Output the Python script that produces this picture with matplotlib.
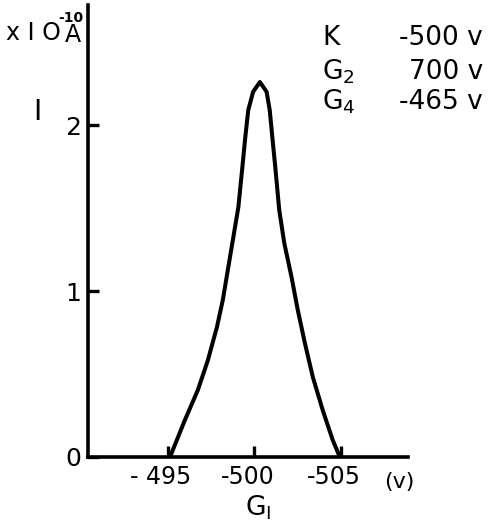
import numpy as np
import matplotlib.pyplot as plt
from matplotlib.transforms import ScaledTranslation

# grid voltage G1 (V) and current (x1e-10 A)
g1 = [-495.12, -495.98, -496.73, -497.31, -497.83, -498.17, -498.46, -498.75,
      -499.07, -499.30, -499.47, -499.64, -499.92, -500.31,
      -500.70, -500.88, -501.03, -501.20, -501.43, -501.72, -502.14, -502.50,
      -502.91, -503.37, -503.94, -504.52, -504.93]
current = [0.0, 0.223, 0.404, 0.584, 0.783, 0.946, 1.127, 1.307,
           1.506, 1.747, 1.928, 2.090, 2.200, 2.259,
           2.200, 2.090, 1.928, 1.747, 1.488, 1.289, 1.084, 0.886,
           0.687, 0.482, 0.283, 0.102, 0.0]

xticks = [-495, -500, -505]
xticklabels = ['- 495', '-500', '-505']
yticks = [0, 1, 2]

electrodes = ['K', 'G$_2$', 'G$_4$']
voltages = ['-500 v', '700 v', '-465 v']

W, H = 490, 527
fig = plt.figure(figsize=(W / 100, H / 100), dpi=100)
ax = fig.add_axes([88 / W, 1 - 457 / H, 320 / W, 452 / H])

ax.plot(g1, current, color='black', lw=2.9, solid_joinstyle='round',
        solid_capstyle='round')

ax.set_xlim(-490.38, -508.87)
ax.set_ylim(0, 2.723)
for side in ['top', 'right']:
    ax.spines[side].set_visible(False)
for side in ['left', 'bottom']:
    ax.spines[side].set_linewidth(2.6)

ax.set_xticks(xticks)
ax.set_xticklabels(xticklabels)
ax.set_yticks(yticks)
ax.tick_params(direction='in', length=8, width=2.4, labelsize=17)
ax.tick_params(axis='x', pad=6)
ax.tick_params(axis='y', pad=5, labelsize=18)
# hand lettering sits a little left of the x ticks
shift = ScaledTranslation(-7 / 100, 0, fig.dpi_scale_trans)
for lab in ax.get_xticklabels():
    lab.set_transform(lab.get_transform() + shift)

def ftext(x, y, s, **kw):
    fig.text(x / W, 1 - y / H, s, ha='center', va='center', **kw)

# axis labels drawn as lettering
ftext(33, 33, 'x I O', fontsize=17)
ftext(73, 35, 'A', fontsize=17)
ftext(71, 18, '-10', fontsize=10, fontweight='bold')
ftext(37, 112, 'I', fontsize=20)
ftext(399, 482, '(v)', fontsize=16)
ftext(258, 508, 'G$_{\\mathsf{I}}$', fontsize=19)

# operating conditions
rows_y = [38, 72, 102]
for name, volt, yy in zip(electrodes, voltages, rows_y):
    fig.text(322 / W, 1 - yy / H, name, ha='left', va='center', fontsize=19)
    fig.text(483 / W, 1 - yy / H, volt, ha='right', va='center', fontsize=19)

plt.savefig('out.png', dpi=100)
